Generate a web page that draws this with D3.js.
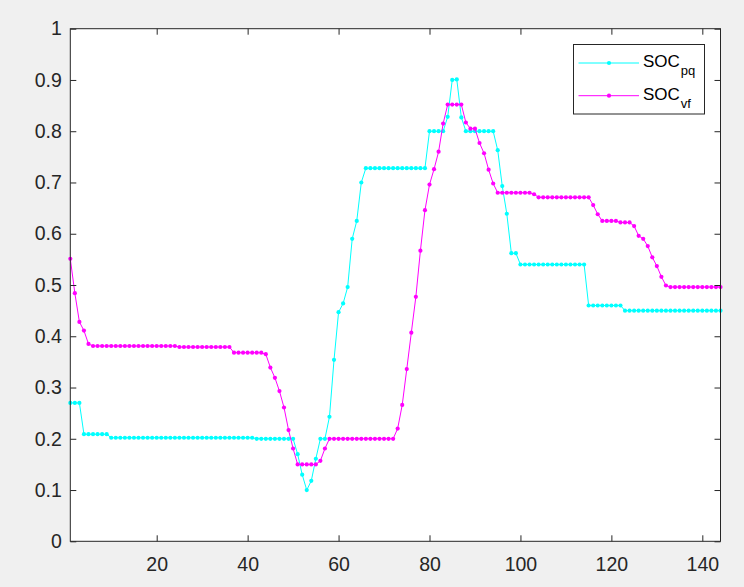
<!DOCTYPE html>
<html>
<head>
<meta charset="utf-8">
<script src="https://cdn.jsdelivr.net/npm/d3@7"></script>
<style>
  html, body { margin: 0; padding: 0; background: #f0f0f0; }
  svg { display: block; }
  .tick text { font-family: "Liberation Sans", Arial, sans-serif; fill: #262626; }
</style>
</head>
<body>
<div id="chart"></div>
<script>
// sample index 1..144
const socPq = [
  0.27, 0.27, 0.27,
  0.209, 0.209, 0.209, 0.209, 0.209, 0.209,
  0.202, 0.202, 0.202, 0.202, 0.202, 0.202, 0.202, 0.202, 0.202, 0.202,
  0.202, 0.202, 0.202, 0.202, 0.202, 0.202, 0.202, 0.202, 0.202, 0.202,
  0.202, 0.202, 0.202, 0.202, 0.202, 0.202, 0.202, 0.202, 0.202, 0.202,
  0.202, 0.202,
  0.2, 0.2, 0.2, 0.2, 0.2, 0.2, 0.2, 0.2, 0.2,
  0.17, 0.13, 0.10, 0.118, 0.161, 0.2, 0.2, 0.243, 0.354, 0.447,
  0.464, 0.496, 0.59, 0.625, 0.7,
  0.728, 0.728, 0.728, 0.728, 0.728, 0.728, 0.728, 0.728, 0.728, 0.728,
  0.728, 0.728, 0.728, 0.728,
  0.8, 0.8, 0.8, 0.8,
  0.828, 0.9, 0.901, 0.827,
  0.8, 0.8, 0.8, 0.8, 0.8, 0.8, 0.8,
  0.763, 0.693, 0.639, 0.562, 0.562,
  0.54, 0.54, 0.54, 0.54, 0.54, 0.54, 0.54, 0.54, 0.54, 0.54,
  0.54, 0.54, 0.54, 0.54, 0.54,
  0.46, 0.46, 0.46, 0.46, 0.46, 0.46, 0.46, 0.46,
  0.45, 0.45, 0.45, 0.45, 0.45, 0.45, 0.45, 0.45, 0.45, 0.45, 0.45,
  0.45, 0.45, 0.45, 0.45, 0.45, 0.45, 0.45, 0.45, 0.45, 0.45, 0.45
];

const socVf = [
  0.551, 0.484, 0.428, 0.411, 0.385,
  0.381, 0.381, 0.381, 0.381, 0.381, 0.381, 0.381, 0.381, 0.381, 0.381,
  0.381, 0.381, 0.381, 0.381, 0.381, 0.381, 0.381, 0.381, 0.381,
  0.379, 0.379, 0.379, 0.379, 0.379, 0.379, 0.379, 0.379, 0.379, 0.379,
  0.379, 0.379,
  0.368, 0.368, 0.368, 0.368, 0.368, 0.368, 0.368,
  0.365, 0.339, 0.319, 0.293, 0.261, 0.217, 0.181,
  0.15, 0.15, 0.15, 0.15, 0.15,
  0.157, 0.181,
  0.2, 0.2, 0.2, 0.2, 0.2, 0.2, 0.2, 0.2, 0.2, 0.2, 0.2, 0.2, 0.2, 0.2, 0.2,
  0.22, 0.266, 0.336, 0.407, 0.477, 0.567, 0.646, 0.696, 0.726, 0.76, 0.815,
  0.852, 0.852, 0.852, 0.852,
  0.817, 0.805, 0.805, 0.777, 0.757, 0.725, 0.698,
  0.68, 0.68, 0.68, 0.68, 0.68, 0.68, 0.68, 0.68,
  0.677,
  0.671, 0.671, 0.671, 0.671, 0.671, 0.671, 0.671, 0.671, 0.671, 0.671,
  0.671, 0.671,
  0.656, 0.638,
  0.625, 0.625, 0.625, 0.625,
  0.622, 0.622, 0.622,
  0.615, 0.596, 0.59, 0.576, 0.554, 0.537, 0.516, 0.499,
  0.496, 0.496, 0.496, 0.496, 0.496, 0.496, 0.496, 0.496, 0.496, 0.496,
  0.496, 0.496
];

const xTicks = [20, 40, 60, 80, 100, 120, 140];
const yTicks = [0, 0.1, 0.2, 0.3, 0.4, 0.5, 0.6, 0.7, 0.8, 0.9, 1];

const series = [
  { name: "SOC", sub: "pq", values: socPq, color: "#00ffff" },
  { name: "SOC", sub: "vf", values: socVf, color: "#ff00ff" }
];

const W = 744, H = 587;
const box = { left: 70.3, right: 720.5, top: 28.7, bottom: 541.3 };
const axisColor = "#262626";

const svg = d3.select("#chart").append("svg").attr("width", W).attr("height", H);

const x = d3.scaleLinear().domain([1, 144]).range([box.left, box.right]);
const y = d3.scaleLinear().domain([0, 1]).range([box.bottom, box.top]);

svg.append("rect")
  .attr("x", box.left).attr("y", box.top)
  .attr("width", box.right - box.left).attr("height", box.bottom - box.top)
  .attr("fill", "#fff");

// lines and markers
const line = d3.line().x((d, i) => x(i + 1)).y((d) => y(d));
const plot = svg.append("g");
series.forEach((s) => {
  plot.append("path")
    .attr("d", line(s.values))
    .attr("fill", "none")
    .attr("stroke", s.color)
    .attr("stroke-width", 1);
  plot.selectAll(null)
    .data(s.values)
    .join("circle")
    .attr("cx", (d, i) => x(i + 1))
    .attr("cy", (d) => y(d))
    .attr("r", 2.1)
    .attr("fill", s.color);
});

// axes, ticks pointing inward
function styleAxis(g, fontSize) {
  g.select(".domain").remove();
  g.selectAll(".tick line").attr("stroke", axisColor).attr("stroke-width", 1);
  g.selectAll(".tick text").style("font-size", fontSize + "px");
}

svg.append("g")
  .attr("transform", `translate(0,${box.bottom})`)
  .call(d3.axisBottom(x).tickValues(xTicks).tickSize(-6).tickPadding(15.5).tickFormat(d3.format("d")))
  .call((g) => styleAxis(g, 19.5));

svg.append("g")
  .attr("transform", `translate(0,${box.top})`)
  .call(d3.axisTop(x).tickValues(xTicks).tickSize(-6).tickFormat(""))
  .call((g) => styleAxis(g, 0));

svg.append("g")
  .attr("transform", `translate(${box.left},0)`)
  .call(d3.axisLeft(y).tickValues(yTicks).tickSize(-6).tickPadding(8.5).tickFormat((d) => String(+d.toFixed(1))))
  .call((g) => styleAxis(g, 19.5));

svg.append("g")
  .attr("transform", `translate(${box.right},0)`)
  .call(d3.axisRight(y).tickValues(yTicks).tickSize(-6).tickFormat(""))
  .call((g) => styleAxis(g, 0));

svg.append("rect")
  .attr("x", box.left).attr("y", box.top)
  .attr("width", box.right - box.left).attr("height", box.bottom - box.top)
  .attr("fill", "none")
  .attr("stroke", axisColor)
  .attr("stroke-width", 1);

// legend
const lg = svg.append("g").attr("transform", "translate(573.5,44.5)");
lg.append("rect")
  .attr("width", 131).attr("height", 69.5)
  .attr("fill", "#fff")
  .attr("stroke", axisColor)
  .attr("stroke-width", 1);

series.forEach((s, i) => {
  const row = lg.append("g").attr("transform", `translate(0,${18.5 + i * 32.7})`);
  row.append("line")
    .attr("x1", 5).attr("x2", 65.5)
    .attr("stroke", s.color).attr("stroke-width", 1);
  row.append("circle").attr("cx", 35.5).attr("r", 2.1).attr("fill", s.color);
  const t = row.append("text")
    .attr("x", 69.5).attr("y", 3.8)
    .style("font-family", "'Liberation Sans', Arial, sans-serif")
    .style("font-size", "17px")
    .attr("fill", "#000");
  t.append("tspan").text(s.name);
  t.append("tspan").attr("dx", 1).attr("dy", 8).style("font-size", "13px").text(s.sub);
});
</script>
</body>
</html>
